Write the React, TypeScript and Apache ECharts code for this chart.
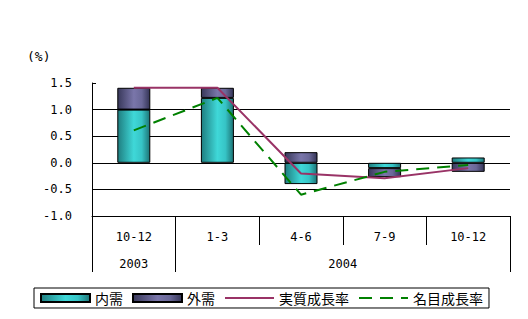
import React, { useEffect, useRef } from "react";
import * as echarts from "echarts";

const quarters = ["10-12", "1-3", "4-6", "7-9", "10-12"];
const years = ["2003", "2004"];
const yearSpans = [1, 4];
const domestic = [1.0, 1.22, -0.4, -0.1, 0.1];
const external = [0.41, 0.19, 0.2, -0.17, -0.17];
const realGrowth = [1.41, 1.41, -0.2, -0.29, -0.1];
const nominalGrowth = [0.61, 1.22, -0.6, -0.17, -0.04];
const yTicks = { min: -1.0, max: 1.5, step: 0.5 };

const MONO = "'DejaVu Sans Mono', monospace";
const CJK = "'Noto Sans CJK JP', sans-serif";

export default function App() {
  const ref = useRef<HTMLDivElement>(null);
  useEffect(() => {
    if (!ref.current) return;
    const chart = echarts.init(ref.current, undefined, { renderer: "svg" });

    const bounds: number[] = [0];
    const centres: number[] = [];
    yearSpans.forEach((s) => {
      const start = bounds[bounds.length - 1];
      centres.push(start + s / 2);
      bounds.push(start + s);
    });

    const cyan = new echarts.graphic.LinearGradient(0, 0, 1, 0, [
      { offset: 0, color: "#1f7e80" },
      { offset: 0.5, color: "#3fd8d8" },
      { offset: 0.75, color: "#36c4c6" },
      { offset: 1, color: "#1d7476" },
    ]);
    const purple = new echarts.graphic.LinearGradient(0, 0, 1, 0, [
      { offset: 0, color: "#38385a" },
      { offset: 0.5, color: "#7a76aa" },
      { offset: 0.75, color: "#6a6898" },
      { offset: 1, color: "#343456" },
    ]);

    const nLines = Math.round((yTicks.max - yTicks.min) / yTicks.step) + 1;
    const splitColors: string[] = [];
    for (let i = 0; i < nLines; i++) splitColors.push(i === nLines - 1 ? "rgba(0,0,0,0)" : "#000");

    const hiddenSymbol = { color: "rgba(0,0,0,0)", borderWidth: 0, opacity: 0 };

    chart.setOption({
      animation: false,
      backgroundColor: "#fff",
      grid: { left: 92, right: 18, top: 83, bottom: 103 },
      graphic: [
        {
          type: "text",
          left: 27,
          top: 50,
          style: { text: "(%)", font: `13px ${MONO}`, fill: "#000" },
        },
      ],
      legend: {
        left: 34,
        top: 288,
        orient: "horizontal",
        borderColor: "#000",
        borderWidth: 1,
        padding: [3, 6, 3, 6],
        itemGap: 9,
        itemWidth: 49,
        itemHeight: 8,
        textStyle: { fontFamily: CJK, fontSize: 14, color: "#000" },
        data: [
          { name: "内需", icon: "rect" },
          { name: "外需", icon: "rect" },
          { name: "実質成長率", itemStyle: hiddenSymbol },
          { name: "名目成長率", itemStyle: hiddenSymbol },
        ],
      },
      xAxis: [
        {
          type: "category",
          data: quarters,
          position: "bottom",
          boundaryGap: true,
          axisLine: { show: true, onZero: false, lineStyle: { color: "#000", width: 1 } },
          axisTick: { show: true, interval: 0, length: 29, lineStyle: { color: "#000" } },
          axisLabel: { interval: 0, margin: 15, fontFamily: MONO, fontSize: 12, color: "#000" },
          splitLine: { show: false },
        },
        {
          type: "value",
          min: 0,
          max: quarters.length,
          position: "bottom",
          axisLine: { show: false, onZero: false },
          axisTick: {
            show: true,
            length: 56,
            customValues: bounds,
            lineStyle: { color: "#000" },
          },
          axisLabel: {
            show: true,
            customValues: centres,
            margin: 42,
            fontFamily: MONO,
            fontSize: 12,
            color: "#000",
            formatter: (v: number) => {
              const i = centres.findIndex((c) => Math.abs(c - v) < 1e-6);
              return i >= 0 ? years[i] : "";
            },
          },
          splitLine: { show: false },
        },
      ],
      yAxis: {
        type: "value",
        min: yTicks.min,
        max: yTicks.max,
        interval: yTicks.step,
        axisLine: { show: true, onZero: false, lineStyle: { color: "#000" } },
        axisTick: { show: true, inside: true, length: 4, lineStyle: { color: "#000" } },
        splitLine: { show: true, lineStyle: { color: splitColors, width: 1 } },
        axisLabel: {
          margin: 20,
          fontFamily: MONO,
          fontSize: 12,
          color: "#000",
          formatter: (v: number) => v.toFixed(1),
        },
      },
      series: [
        {
          name: "内需",
          type: "bar",
          stack: "demand",
          barWidth: 33,
          data: domestic,
          itemStyle: { color: cyan, borderColor: "#000", borderWidth: 1 },
        },
        {
          name: "外需",
          type: "bar",
          stack: "demand",
          barWidth: 33,
          data: external,
          itemStyle: { color: purple, borderColor: "#000", borderWidth: 1 },
        },
        {
          name: "実質成長率",
          type: "line",
          data: realGrowth,
          symbol: "none",
          itemStyle: { color: "#993366" },
          lineStyle: { color: "#993366", width: 2 },
          z: 5,
        },
        {
          name: "名目成長率",
          type: "line",
          data: nominalGrowth,
          symbol: "none",
          itemStyle: { color: "#008000" },
          lineStyle: { color: "#008000", width: 2, type: [13, 8] },
          z: 5,
        },
      ],
    });
    return () => chart.dispose();
  }, []);
  return (
    <div
      ref={ref}
      style={{ position: "fixed", left: 0, top: 0, width: 528, height: 319 }}
    />
  );
}
